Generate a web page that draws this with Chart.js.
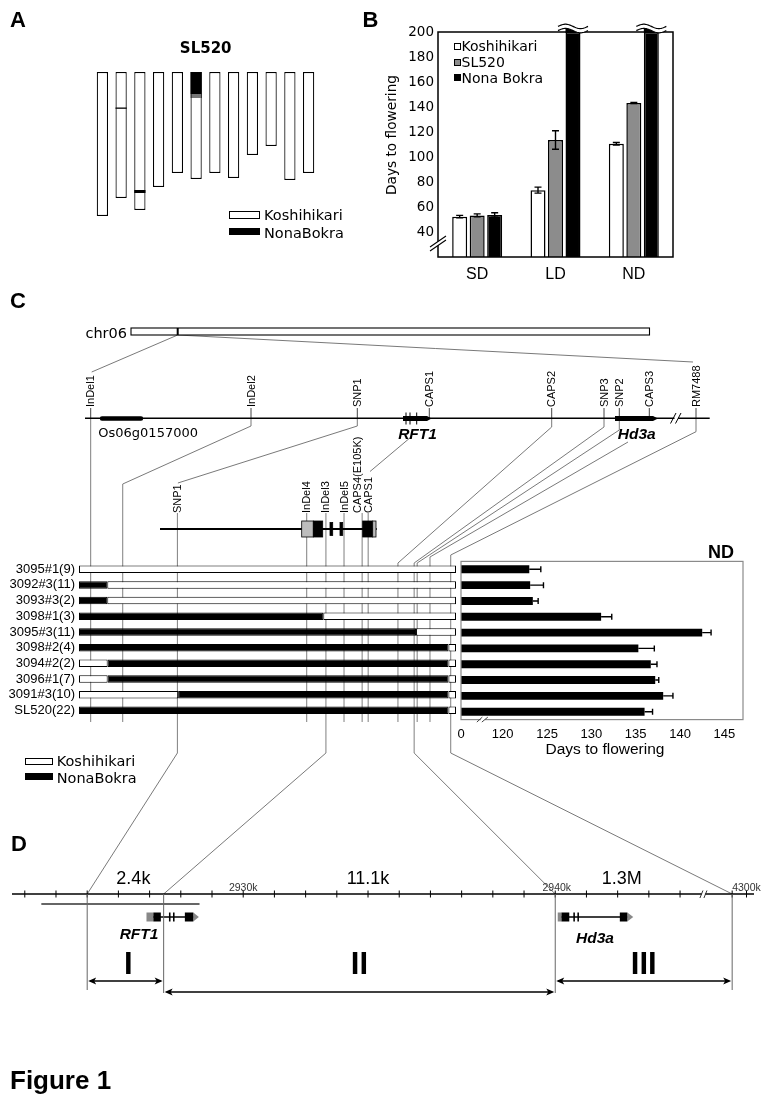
<!DOCTYPE html>
<html>
<head>
<meta charset="utf-8">
<title>Figure 1</title>
<script src="https://cdn.jsdelivr.net/npm/chart.js@4.4.1/dist/chart.umd.min.js"></script>
<style>
  body { margin: 0; background: #fff; }
  #page { position: relative; width: 768px; height: 1103px; overflow: hidden; background: #fff; }
  canvas { position: absolute; }
  #overlay { z-index: 0; }
  .chart { z-index: 1; }
  .txt { position: absolute; white-space: nowrap; line-height: 1; color: #000; z-index: 5;
         font-family: "Liberation Sans", Arial, sans-serif; }
  .sw { position: absolute; box-sizing: border-box; z-index: 5; }
</style>
</head>
<body>
<div id="page">
  <canvas id="overlay" width="768" height="1103" style="left:0;top:0"></canvas>
  <canvas id="chromChart" class="chart" width="245" height="170" style="left:83px;top:62px"></canvas>
  <canvas id="dtfChart" class="chart" width="300" height="290" style="left:384px;top:0"></canvas>
  <canvas id="genoChart" class="chart" width="460" height="190" style="left:0;top:540px"></canvas>
  <canvas id="ndChart" class="chart" width="328" height="230" style="left:440px;top:540px"></canvas>
  <canvas id="mapChart" class="chart" width="768" height="160" style="left:0;top:850px"></canvas>
</div>
<script>
// ---------- A: graphical genotype of SL520 (relative chromosome lengths) ----------
const CHROMOSOMES = ['1', '2', '3', '4', '5', '6', '7', '8', '9', '10', '11', '12'];
const CHROM_LENGTH = [144, 126, 138, 115, 101, 107, 101, 106, 83, 74, 108, 101];
const NONA_SEGMENT = [null, [35.5, 36.8], [118, 121], null, null, [0, 22], null, null, null, null, null, null];
const HETERO_SEGMENT = [null, null, null, null, null, [22, 26], null, null, null, null, null, null];

// ---------- B: days to flowering ----------
const CONDITIONS = ['SD', 'LD', 'ND'];
const KOSHI_DAYS = [52.3, 73.5, 110.6];
const KOSHI_ERR = [1.0, 2.4, 1.0];
const SL520_DAYS = [53.3, 113.6, 143.2];
const SL520_ERR = [1.2, 7.4, 0.5];
const NONA_DAYS = [53.6, 200, 200];   // LD / ND run off the top of the axis
const NONA_ERR = [1.8, 0, 0];
const B_TICKS = [40, 60, 80, 100, 120, 140, 160, 180, 200];

// ---------- C: substitution lines, genotypes and ND flowering ----------
const LINES = ['3095#1(9)', '3092#3(11)', '3093#3(2)', '3098#1(3)', '3095#3(11)',
               '3098#2(4)', '3094#2(2)', '3096#1(7)', '3091#3(10)', 'SL520(22)'];
const FIRST_GENOTYPE = ['K', 'N', 'N', 'N', 'N', 'N', 'K', 'K', 'K', 'N'];
// breakpoints along the mapped region (% of its width)
const BREAKPOINTS = [[], [7.5], [7.5], [64.8], [89.4], [98], [7.6, 98], [7.6, 98], [26.3, 98], [98]];
const GENO_MARKERS = ['InDel1', 'InDel2', 'SNP1', 'InDel4', 'InDel3', 'InDel5', 'CAPS4(E105K)',
                      'CAPS1', 'CAPS2', 'SNP3', 'SNP2', 'CAPS3', 'RM7488'];
const GENO_MARKER_POS = [3.1, 11.6, 26.1, 60.4, 65.5, 70.3, 75.1, 76.7, 84.6, 88.9, 89.7, 93.1, 98.6];
const ND_DAYS = [123.0, 123.1, 123.4, 131.1, 142.5, 135.3, 136.7, 137.2, 138.1, 136.0];
const ND_ERR = [1.3, 1.5, 0.6, 1.2, 1.0, 1.8, 0.7, 0.4, 1.1, 0.9];
const ND_TICKS = [120, 125, 130, 135, 140, 145];
const ND_MIN = 115.3;   // broken axis: this position is labelled 0
const ND_MAX = 147.1;

// main map markers (panel C top)
const MAP_MARKERS = ['InDel1', 'InDel2', 'SNP1', 'CAPS1', 'CAPS2', 'SNP3', 'SNP2', 'CAPS3', 'RM7488'];
const MAP_MARKER_X = [90.7, 251, 357.3, 429.3, 551.7, 604, 619.3, 649.3, 696];

// ---------- D: physical map (kb; the part after the break is compressed) ----------
const D_TICKS = [2923, 2924, 2925, 2926, 2927, 2928, 2929, 2930, 2931, 2932, 2933, 2934, 2935,
                 2936, 2937, 2938, 2939, 2940, 2941, 2942, 2943, 2944, 2945.67, 2946.13];
const D_TICK_LABELS = [['2930k', 2930], ['2940k', 2940.05], ['4300k', 2946.13]];
const REGIONS = ['I', 'II', 'III'];
const REGION_FROM = [2925.0, 2927.45, 2940.0];
const REGION_TO = [2927.45, 2940.0, 2945.67];
const REGION_SIZE = ['2.4k', '11.1k', '1.3M'];
const REGION_SIZE_AT = [2926.48, 2934.0, 2942.13];
const CLONE = [2923.53, 2928.6];
const RFT1_MODEL = { utr5: [2926.90, 2927.12], exons: [[2927.12, 2927.36], [2927.62, 2927.67], [2927.75, 2927.80], [2928.13, 2928.40]], utr3: [2928.40, 2928.58] };
const HD3A_MODEL = { utr5: [2940.08, 2940.20], exons: [[2940.20, 2940.45], [2940.58, 2940.63], [2940.71, 2940.76], [2942.07, 2942.31]], utr3: [2942.31, 2942.50] };

Chart.defaults.animation = false;
Chart.defaults.plugins.legend.display = false;
Chart.defaults.plugins.tooltip.enabled = false;
Chart.defaults.color = '#000';
const SANS = '"Liberation Sans", Arial, sans-serif';
const WIDE = '"DejaVu Sans", Verdana, sans-serif';
Chart.defaults.font.family = SANS;

const errorBars = {
  id: 'errorBars',
  afterDatasetsDraw(chart, args, opts) {
    const ctx = chart.ctx;
    const horizontal = chart.options.indexAxis === 'y';
    const vScale = horizontal ? chart.scales.x : chart.scales.y;
    const c = opts.cap / 2;
    ctx.save();
    ctx.strokeStyle = '#000';
    ctx.lineWidth = opts.width;
    chart.data.datasets.forEach((ds, di) => {
      if (!ds.errors) return;
      chart.getDatasetMeta(di).data.forEach((bar, i) => {
        const v = ds.data[i], e = ds.errors[i];
        if (!e) return;
        const hi = vScale.getPixelForValue(v + e);
        const lo = vScale.getPixelForValue(opts.oneSided ? v : v - e);
        ctx.beginPath();
        if (horizontal) {
          ctx.moveTo(lo, bar.y); ctx.lineTo(hi, bar.y);
          ctx.moveTo(hi, bar.y - c); ctx.lineTo(hi, bar.y + c);
        } else {
          ctx.moveTo(bar.x, lo); ctx.lineTo(bar.x, hi);
          ctx.moveTo(bar.x - c, hi); ctx.lineTo(bar.x + c, hi);
          ctx.moveTo(bar.x - c, lo); ctx.lineTo(bar.x + c, lo);
        }
        ctx.stroke();
      });
    });
    ctx.restore();
  }
};

function wave(ctx, cx, cy, barW) {
  const half = 15, amp = 2.2, gap = 4.2;
  const yAt = (k, dy) => cy + dy - amp * Math.sin(k / 30 * 2 * Math.PI);
  ctx.fillStyle = '#000';
  ctx.fillRect(cx - barW / 2, cy + 0.5, barW, 4);
  ctx.beginPath();
  for (let k = 0; k <= 30; k++) ctx.lineTo(cx - half + k, yAt(k, -gap / 2));
  for (let k = 30; k >= 0; k--) ctx.lineTo(cx - half + k, yAt(k, gap / 2));
  ctx.closePath();
  ctx.fillStyle = '#fff';
  ctx.fill();
  ctx.lineWidth = 1.2;
  [-gap / 2, gap / 2].forEach(dy => {
    ctx.beginPath();
    for (let k = 0; k <= 30; k++) ctx.lineTo(cx - half + k, yAt(k, dy));
    ctx.stroke();
  });
}

const frameB = {
  id: 'frameB',
  afterDatasetsDraw(chart) {
    const { ctx, chartArea: a } = chart;
    ctx.save();
    ctx.strokeStyle = '#000';
    ctx.lineWidth = 1.5;
    ctx.strokeRect(a.left, a.top, a.right - a.left, a.bottom - a.top);
    const meta = chart.getDatasetMeta(2);
    NONA_DAYS.forEach((v, i) => {
      if (v >= chart.scales.y.max) wave(ctx, meta.data[i].x, a.top - 3.5, meta.data[i].width);
    });
    // axis break at lower left
    const x = a.left, y = a.bottom - 12;
    ctx.fillStyle = '#fff';
    ctx.beginPath();
    ctx.moveTo(x - 8, y + 6); ctx.lineTo(x + 8, y - 5); ctx.lineTo(x + 8, y - 9); ctx.lineTo(x - 8, y + 2);
    ctx.closePath(); ctx.fill();
    ctx.lineWidth = 1.1;
    ctx.beginPath();
    ctx.moveTo(x - 8, y + 6); ctx.lineTo(x + 8, y - 5);
    ctx.moveTo(x - 8, y + 2); ctx.lineTo(x + 8, y - 9);
    ctx.stroke();
    ctx.restore();
  }
};

const frameND = {
  id: 'frameND',
  afterDatasetsDraw(chart) {
    const { ctx, chartArea: a } = chart;
    ctx.save();
    ctx.strokeStyle = '#8a8a8a';
    ctx.lineWidth = 1.2;
    ctx.strokeRect(a.left, a.top, a.right - a.left, a.bottom - a.top);
    const bx = (chart.scales.x.getPixelForValue(ND_MIN) + chart.scales.x.getPixelForValue(120)) / 2 + 1;
    ctx.fillStyle = '#fff';
    ctx.fillRect(bx - 2, a.bottom - 1.5, 4, 3);
    ctx.strokeStyle = '#444';
    ctx.lineWidth = 1;
    ctx.beginPath();
    ctx.moveTo(bx - 6, a.bottom + 2.5); ctx.lineTo(bx - 0.5, a.bottom - 2.5);
    ctx.moveTo(bx - 1, a.bottom + 2.5); ctx.lineTo(bx + 5, a.bottom - 2.5);
    ctx.stroke();
    ctx.restore();
  }
};

// ---------- panel A ----------
const chromChart = new Chart(document.getElementById('chromChart'), {
  type: 'bar',
  data: {
    labels: CHROMOSOMES,
    datasets: [
      { label: 'Koshihikari', data: CHROM_LENGTH.map(l => [0, l]), backgroundColor: '#fff',
        borderColor: '#000', borderWidth: 1.2, borderSkipped: false, order: 3 },
      { label: 'Heterozygous', data: HETERO_SEGMENT, backgroundColor: '#777', borderColor: '#000',
        borderWidth: { left: 1.2, right: 1.2, top: 0, bottom: 0 }, borderSkipped: false, order: 2 },
      { label: 'NonaBokra', data: NONA_SEGMENT, backgroundColor: '#000', borderWidth: 0, order: 1 }
    ]
  },
  options: {
    responsive: false,
    layout: { padding: 10 },
    datasets: { bar: { grouped: false, barPercentage: 0.6, categoryPercentage: 1 } },
    scales: {
      x: { display: false },
      y: { display: false, reverse: true, min: 0, max: 150 }
    }
  }
});

// ---------- panel B ----------
const dtfChart = new Chart(document.getElementById('dtfChart'), {
  type: 'bar',
  data: {
    labels: CONDITIONS,
    datasets: [
      { label: 'Koshihikari', data: KOSHI_DAYS, errors: KOSHI_ERR, backgroundColor: '#fff' },
      { label: 'SL520', data: SL520_DAYS, errors: SL520_ERR, backgroundColor: '#8c8c8c' },
      { label: 'Nona Bokra', data: NONA_DAYS, errors: NONA_ERR, backgroundColor: '#000' }
    ]
  },
  options: {
    responsive: false,
    layout: { padding: { top: 32, right: 11, left: 0, bottom: 0 } },
    datasets: { bar: { borderColor: '#000', borderWidth: 1.5, borderSkipped: 'start',
                       barPercentage: 0.857, categoryPercentage: 0.67 } },
    plugins: { errorBars: { cap: 7, width: 1.4 } },
    scales: {
      x: { grid: { display: false, drawTicks: false }, border: { display: false },
           ticks: { font: { family: SANS, size: 16 }, padding: 8, color: '#000' },
           afterFit: s => { s.height = 33; } },
      y: { min: 20, max: 200, grid: { display: false, drawTicks: false }, border: { display: false },
           afterBuildTicks: s => { s.ticks = B_TICKS.map(v => ({ value: v })); },
           ticks: { font: { family: WIDE, size: 13.5 }, padding: 4, color: '#000' },
           afterFit: s => { s.width = 54; } }
    }
  },
  plugins: [errorBars, frameB]
});

// ---------- panel C: genotype bars ----------
function genotypeDatasets() {
  const slots = [[], [], []], colors = [[], [], []];
  LINES.forEach((name, r) => {
    const edges = [0, ...BREAKPOINTS[r], 100];
    let g = FIRST_GENOTYPE[r];
    for (let s = 0; s < 3; s++) {
      if (s < edges.length - 1) {
        slots[s].push([edges[s], edges[s + 1]]);
        colors[s].push(g === 'N' ? '#000' : '#fff');
        g = g === 'N' ? 'K' : 'N';
      } else {
        slots[s].push(null);
        colors[s].push('#fff');
      }
    }
  });
  return slots.map((d, s) => ({ label: 'segment ' + (s + 1), data: d, backgroundColor: colors[s] }));
}

const genoChart = new Chart(document.getElementById('genoChart'), {
  type: 'bar',
  data: { labels: LINES, datasets: genotypeDatasets() },
  options: {
    indexAxis: 'y',
    responsive: false,
    layout: { padding: { top: 21.4, right: 4, bottom: 10.4, left: 0 } },
    datasets: { bar: { grouped: false, barPercentage: 0.48, categoryPercentage: 1,
                       borderColor: '#000', borderWidth: 1, borderSkipped: false } },
    scales: {
      x: { display: false, min: 0, max: 100 },
      y: { grid: { display: false, drawTicks: false }, border: { display: false },
           ticks: { font: { family: SANS, size: 13 }, padding: 4, color: '#000', autoSkip: false },
           afterFit: s => { s.width = 79; } }
    }
  }
});

// ---------- panel C: ND flowering ----------
const ndChart = new Chart(document.getElementById('ndChart'), {
  type: 'bar',
  data: { labels: LINES, datasets: [{ label: 'ND', data: ND_DAYS, errors: ND_ERR, backgroundColor: '#000' }] },
  options: {
    indexAxis: 'y',
    responsive: false,
    layout: { padding: { top: 21.4, right: 25, left: 21, bottom: 0 } },
    datasets: { bar: { barPercentage: 0.5, categoryPercentage: 1, borderWidth: 0 } },
    plugins: { errorBars: { cap: 6, width: 1.4, oneSided: true } },
    scales: {
      y: { display: false },
      x: { min: ND_MIN, max: ND_MAX, grid: { display: false, drawTicks: false }, border: { display: false },
           afterBuildTicks: s => { s.ticks = [ND_MIN, ...ND_TICKS].map(v => ({ value: v })); },
           ticks: { font: { family: SANS, size: 13 }, padding: 7, color: '#000', autoSkip: false,
                    maxRotation: 0, callback: v => (v === ND_MIN ? '0' : v) },
           afterFit: s => { s.height = 50.4; } }
    }
  },
  plugins: [errorBars, frameND]
});

// ---------- panel D ----------
function geneModel(ctx, x, m, y) {
  const h = 9;
  ctx.strokeStyle = '#000';
  ctx.lineWidth = 1.3;
  ctx.beginPath();
  ctx.moveTo(x(m.exons[0][0]), y); ctx.lineTo(x(m.exons[m.exons.length - 1][1]), y);
  ctx.stroke();
  ctx.fillStyle = '#888';
  ctx.fillRect(x(m.utr5[0]), y - h / 2, x(m.utr5[1]) - x(m.utr5[0]), h);
  ctx.beginPath();
  ctx.moveTo(x(m.utr3[0]), y - h / 2); ctx.lineTo(x(m.utr3[1]), y); ctx.lineTo(x(m.utr3[0]), y + h / 2);
  ctx.closePath(); ctx.fill();
  ctx.fillStyle = '#000';
  m.exons.forEach(e => ctx.fillRect(x(e[0]), y - h / 2, Math.max(1.4, x(e[1]) - x(e[0])), h));
}

function arrow2(ctx, x1, x2, y) {
  const L = 9, W = 3.6;
  ctx.lineWidth = 1.5;
  ctx.beginPath(); ctx.moveTo(x1 + 3, y); ctx.lineTo(x2 - 3, y); ctx.stroke();
  ctx.beginPath();
  ctx.moveTo(x1 + 1, y); ctx.lineTo(x1 + L, y - W); ctx.lineTo(x1 + L - 2, y); ctx.lineTo(x1 + L, y + W); ctx.closePath();
  ctx.moveTo(x2 - 1, y); ctx.lineTo(x2 - L, y - W); ctx.lineTo(x2 - L + 2, y); ctx.lineTo(x2 - L, y + W); ctx.closePath();
  ctx.fill();
}

const mapDraw = {
  id: 'mapDraw',
  afterDraw(chart) {
    const ctx = chart.ctx, a = chart.chartArea;
    const x = v => chart.scales.x.getPixelForValue(v);
    const AX = 44;
    ctx.save();
    ctx.strokeStyle = '#000';
    ctx.lineWidth = 1.3;
    ctx.beginPath(); ctx.moveTo(a.left, AX); ctx.lineTo(a.right, AX); ctx.stroke();
    ctx.lineWidth = 1;
    D_TICKS.forEach(t => { ctx.beginPath(); ctx.moveTo(x(t), AX - 3.5); ctx.lineTo(x(t), AX + 3.5); ctx.stroke(); });
    // axis break
    const bx = x(2944.75);
    ctx.fillStyle = '#fff';
    ctx.fillRect(bx - 1.5, AX - 1.5, 3, 3);
    ctx.strokeStyle = '#333';
    ctx.beginPath();
    ctx.moveTo(bx - 3.5, AX + 4); ctx.lineTo(bx - 0.5, AX - 3.5);
    ctx.moveTo(bx + 0.5, AX + 4); ctx.lineTo(bx + 3.5, AX - 3.5);
    ctx.stroke();
    // clone
    ctx.strokeStyle = '#333';
    ctx.lineWidth = 1.6;
    ctx.beginPath(); ctx.moveTo(x(CLONE[0]), 54); ctx.lineTo(x(CLONE[1]), 54); ctx.stroke();
    // genes
    geneModel(ctx, x, RFT1_MODEL, 67);
    geneModel(ctx, x, HD3A_MODEL, 67);
    // region boundaries
    ctx.strokeStyle = '#666';
    ctx.lineWidth = 1;
    [[REGION_FROM[0], 140], [REGION_FROM[1], 143], [REGION_FROM[2], 143], [REGION_TO[2], 140]].forEach(([v, b]) => {
      ctx.beginPath(); ctx.moveTo(x(v), AX); ctx.lineTo(x(v), b); ctx.stroke();
    });
    ctx.strokeStyle = '#000';
    ctx.fillStyle = '#000';
    const arrowY = [131, 142, 131];
    REGIONS.forEach((r, i) => arrow2(ctx, x(REGION_FROM[i]), x(REGION_TO[i]), arrowY[i]));
    ctx.restore();
  }
};

const mapChart = new Chart(document.getElementById('mapChart'), {
  type: 'scatter',
  data: { datasets: [] },
  options: {
    responsive: false,
    layout: { padding: { left: 12, right: 14, top: 0, bottom: 0 } },
    scales: {
      x: { type: 'linear', display: false, min: 2922.59, max: 2946.37 },
      y: { display: false, min: 0, max: 1 }
    }
  },
  plugins: [mapDraw]
});

// ---------- overlay: chromosome, marker maps and connecting lines ----------
const GENO_LINE_TOP = [418.3, 484, 513, 513, 513, 513, 513, 513, 563, 563, 563, 557, 555];
const GENO_LINE_BOTTOM = [722, 722, 753, 722, 753, 722, 722, 722, 722, 753, 722, 722, 753];
// upward links: geno marker index -> [points above its vertical]
const UP_LINKS = [
  [1, [[251, 418.3], [251, 426]]],
  [8, [[551.7, 418.3], [551.7, 427]]],
  [9, [[604, 418.3], [604, 427]]],
  [10, [[619.3, 418.3], [619.3, 430]]],
  [11, [[628, 442]]],
  [12, [[696, 418.3], [696, 431.7]]]
];
const DOWN_LINKS = [[2, REGION_FROM[0]], [4, REGION_FROM[1]], [9, REGION_FROM[2]], [12, REGION_TO[2]]];

function drawOverlay() {
  const ctx = document.getElementById('overlay').getContext('2d');
  const gx = v => genoChart.scales.x.getPixelForValue(v);
  const dx = v => mapChart.scales.x.getPixelForValue(v);
  const poly = (pts, color, w) => {
    ctx.beginPath();
    ctx.strokeStyle = color || '#6a6a6a';
    ctx.lineWidth = w || 0.9;
    pts.forEach((p, i) => (i ? ctx.lineTo(p[0], p[1]) : ctx.moveTo(p[0], p[1])));
    ctx.stroke();
  };

  // chr06 zoom-in lines
  poly([[177.7, 335], [91.7, 372]]);
  poly([[177.7, 335], [693, 362]]);

  // ticks under map marker labels
  MAP_MARKER_X.forEach(x => poly([[x, 408], [x, 418.3]], '#444', 1));

  // links from the map to the genotyped markers
  UP_LINKS.forEach(([g, pts]) => poly([...pts, [gx(GENO_MARKER_POS[g]), GENO_LINE_TOP[g]]]));
  poly([[357.3, 418.3], [357.3, 426], [gx(GENO_MARKER_POS[2]) + 0.5, 483]]);
  poly([[411, 437], [370, 471.5]]);

  // verticals through the genotype panel
  GENO_MARKER_POS.forEach((p, i) => poly([[gx(p), GENO_LINE_TOP[i]], [gx(p), GENO_LINE_BOTTOM[i]]], '#707070', 0.9));
  DOWN_LINKS.forEach(([g, kb]) => poly([[gx(GENO_MARKER_POS[g]), 753], [dx(kb), 894]]));

  // chr06
  ctx.fillStyle = '#fff';
  ctx.fillRect(131, 328, 518.5, 7);
  ctx.strokeStyle = '#000';
  ctx.lineWidth = 1.1;
  ctx.strokeRect(131, 328, 518.5, 7);
  poly([[177.7, 328], [177.7, 335]], '#000', 2);

  // main marker map
  poly([[85, 418.3], [709.7, 418.3]], '#000', 1.5);
  ctx.lineCap = 'round';
  poly([[102, 418.6], [141, 418.6]], '#000', 4.5);
  ctx.lineCap = 'butt';
  ctx.fillStyle = '#000';
  [[403, 427, 431.5], [615, 653, 658]].forEach(([x0, x1, tip]) => {
    ctx.beginPath();
    ctx.moveTo(x0, 416); ctx.lineTo(x1, 416); ctx.lineTo(tip, 418.5); ctx.lineTo(x1, 421); ctx.lineTo(x0, 421);
    ctx.closePath(); ctx.fill();
  });
  [406, 410, 416.7].forEach(x => poly([[x, 412.5], [x, 424.5]], '#000', 1));
  ctx.fillStyle = '#fff';
  ctx.fillRect(674.5, 416, 3.5, 5);
  poly([[670.5, 423.5], [676, 413]], '#000', 1);
  poly([[675.5, 423.5], [681, 413]], '#000', 1);

  // RFT1 gene structure
  poly([[160, 529], [376.7, 529]], '#000', 2.2);
  const boxes = [[301.7, 313.3, '#bdbdbd', 16], [313.3, 322.7, '#000', 16], [330, 332.7, '#000', 13],
                 [340, 342.7, '#000', 13], [362.7, 372.7, '#000', 16], [372.7, 376, '#bdbdbd', 16]];
  boxes.forEach(([x0, x1, c, h]) => {
    ctx.fillStyle = c;
    ctx.fillRect(x0, 529 - h / 2, x1 - x0, h);
    ctx.strokeStyle = '#000';
    ctx.lineWidth = 0.8;
    ctx.strokeRect(x0, 529 - h / 2, x1 - x0, h);
  });
}

// ---------- text ----------
const page = document.getElementById('page');
function txt(str, x, y, anchor, css) {
  const d = document.createElement('div');
  d.className = 'txt';
  d.textContent = str;
  Object.assign(d.style, css || {});
  d.style.left = x + 'px';
  d.style.top = y + 'px';
  const tx = anchor === 'l' ? '0' : anchor === 'r' ? '-100%' : '-50%';
  d.style.transform = 'translate(' + tx + ',-50%)' + (css && css.rot ? ' rotate(-90deg)' : '');
  page.appendChild(d);
  return d;
}
function vtxt(str, x, bottom, size) {
  const d = document.createElement('div');
  d.className = 'txt';
  d.textContent = str;
  d.style.fontSize = size + 'px';
  d.style.left = (x - size / 2) + 'px';
  d.style.top = bottom + 'px';
  d.style.transformOrigin = '0 0';
  d.style.transform = 'rotate(-90deg)';
  page.appendChild(d);
}
function swatch(x, y, w, h, color) {
  const s = document.createElement('div');
  s.className = 'sw';
  Object.assign(s.style, { left: x + 'px', top: y + 'px', width: w + 'px', height: h + 'px',
    background: color, border: '1.2px solid #000' });
  page.appendChild(s);
}

const PANEL = { fontWeight: 'bold', fontSize: '22px' };
const WIDEF = '"DejaVu Sans", Verdana, sans-serif';
txt('A', 18, 20, 'c', PANEL);
txt('B', 370.5, 20, 'c', PANEL);
txt('C', 18, 301, 'c', PANEL);
txt('D', 19, 844, 'c', PANEL);
txt('Figure 1', 10, 1080, 'l', { fontWeight: 'bold', fontSize: '26px' });

// A
txt('SL520', 205.7, 48, 'c', { fontFamily: WIDEF, fontWeight: 'bold', fontSize: '15px' });
swatch(229, 211, 31, 8, '#fff');
swatch(229, 228.3, 31, 7, '#000');
txt('Koshihikari', 264, 215, 'l', { fontFamily: WIDEF, fontSize: '14.5px' });
txt('NonaBokra', 264, 232.5, 'l', { fontFamily: WIDEF, fontSize: '14.5px' });

// B
const vt = txt('Days to flowering', 392, 135, 'c', { fontFamily: WIDEF, fontSize: '13.7px' });
vt.style.transform = 'translate(-50%,-50%) rotate(-90deg)';
[['Koshihikari', '#fff', 46], ['SL520', '#8c8c8c', 62], ['Nona Bokra', '#000', 77.5]].forEach(([t, c, y]) => {
  swatch(454, y - 3.5, 7, 7, c);
  txt(t, 461.5, y, 'l', { fontFamily: WIDEF, fontSize: '14px' });
});

// C
txt('chr06', 127, 332.5, 'r', { fontFamily: WIDEF, fontSize: '14.5px' });
txt('Os06g0157000', 98.3, 432, 'l', { fontFamily: WIDEF, fontSize: '13px' });
txt('RFT1', 417.5, 434, 'c', { fontWeight: 'bold', fontStyle: 'italic', fontSize: '15.5px' });
txt('Hd3a', 636.7, 434, 'c', { fontWeight: 'bold', fontStyle: 'italic', fontSize: '15.5px' });
MAP_MARKERS.forEach((m, i) => vtxt(m, MAP_MARKER_X[i], 406.7, 11));
[2, 3, 4, 5, 6, 7].forEach(i => {
  const x = genoChart.scales.x.getPixelForValue(GENO_MARKER_POS[i]) + (i === 6 ? -4.5 : 0);
  vtxt(GENO_MARKERS[i], x, 513, 11);
});
txt('ND', 721, 552, 'c', { fontWeight: 'bold', fontSize: '18px' });
txt('Days to flowering', 605, 749, 'c', { fontSize: '15.5px' });
swatch(25, 758.3, 28.3, 7, '#fff');
swatch(25, 773.3, 28.3, 6.3, '#000');
txt('Koshihikari', 56.7, 761, 'l', { fontFamily: WIDEF, fontSize: '14.5px' });
txt('NonaBokra', 56.7, 777.5, 'l', { fontFamily: WIDEF, fontSize: '14.5px' });

// D
const dxp = v => mapChart.scales.x.getPixelForValue(v);
D_TICK_LABELS.forEach(([t, v]) => txt(t, dxp(v), 886.5, 'c', { fontSize: '10.5px', color: '#333' }));
REGION_SIZE.forEach((t, i) => txt(t, dxp(REGION_SIZE_AT[i]), 877.5, 'c', { fontSize: '18px' }));
REGIONS.forEach((t, i) => txt(t, (dxp(REGION_FROM[i]) + dxp(REGION_TO[i])) / 2 + (i === 0 ? 3 : 0), 963, 'c',
  { fontWeight: 'bold', fontSize: '31px' }));
txt('RFT1', 139, 934, 'c', { fontWeight: 'bold', fontStyle: 'italic', fontSize: '15.5px' });
txt('Hd3a', 595, 938, 'c', { fontWeight: 'bold', fontStyle: 'italic', fontSize: '15.5px' });

drawOverlay();
</script>
</body>
</html>
